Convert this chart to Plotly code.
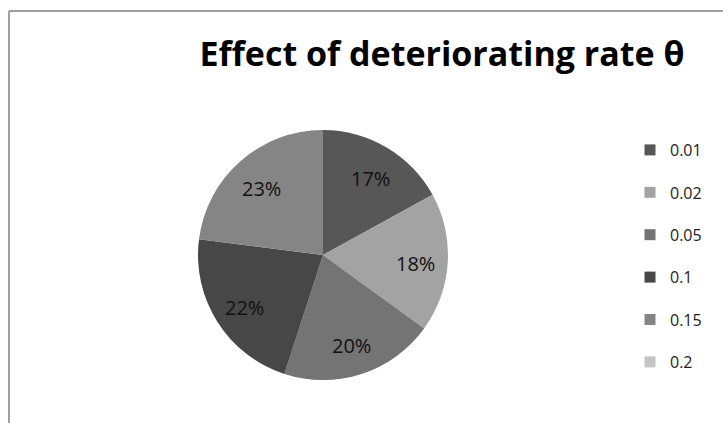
import math
import plotly.graph_objects as go

labels = ["0.01", "0.02", "0.05", "0.1", "0.15", "0.2"]
values = [17, 18, 20, 22, 23, 0]
colors = ["#575757", "#a3a3a3", "#747474", "#474747", "#858585", "#c4c4c4"]
title_text = "Effect of deteriorating rate θ"

W, H = 723, 423
cx, cy, r = 323, 255, 125
label_radius = 0.74

fig = go.Figure()
fig.add_trace(go.Pie(
    labels=labels, values=values, sort=False, direction="clockwise", rotation=0,
    marker=dict(colors=colors, line=dict(width=0)),
    textinfo="none", textposition="none",
    showlegend=False, hoverinfo="label+percent",
    domain=dict(x=[(cx - r) / W, (cx + r) / W], y=[(H - cy - r) / H, (H - cy + r) / H]),
))
for lab, col in zip(labels, colors):
    fig.add_trace(go.Scatter(
        x=[None], y=[None], mode="markers", name=lab, legendgroup=lab,
        marker=dict(symbol="square", size=11, color=col),
    ))

# percentage labels placed at the mid-angle of each slice (computed from values)
total = sum(values)
annotations = []
cum = 0
for v in values:
    if v > 0:
        mid = (cum + v / 2) / total * 2 * math.pi
        px = cx + label_radius * r * math.sin(mid)
        py = cy - label_radius * r * math.cos(mid) + 3
        annotations.append(dict(
            x=px / W, y=1 - py / H, xref="paper", yref="paper", showarrow=False,
            text=f"{round(100 * v / total)}%", xanchor="center", yanchor="middle",
            font=dict(family="Open Sans", size=20, color="#111111"),
        ))
    cum += v

fig.update_layout(
    width=W, height=H, margin=dict(l=0, r=0, t=0, b=0),
    paper_bgcolor="white", plot_bgcolor="white",
    xaxis=dict(visible=False), yaxis=dict(visible=False),
    title=dict(text="<b>" + title_text + "</b>", x=442 / W, xanchor="center",
               y=1 - 54 / H, yanchor="middle",
               font=dict(family="Open Sans", size=34, color="black")),
    legend=dict(x=630 / W, xanchor="left", y=1 - 133 / H, yanchor="top",
                font=dict(family="Open Sans", size=16, color="#222222"),
                tracegroupgap=18.6, itemwidth=30, bgcolor="rgba(0,0,0,0)"),
    annotations=annotations,
    shapes=[
        dict(type="line", xref="paper", yref="paper", x0=9 / W, x1=1, y0=1 - 11 / H, y1=1 - 11 / H,
             line=dict(color="#a0a0a0", width=2)),
        dict(type="line", xref="paper", yref="paper", x0=9 / W, x1=9 / W, y0=0, y1=1 - 11 / H,
             line=dict(color="#a0a0a0", width=2)),
    ],
)
fig.write_html("out.html")
